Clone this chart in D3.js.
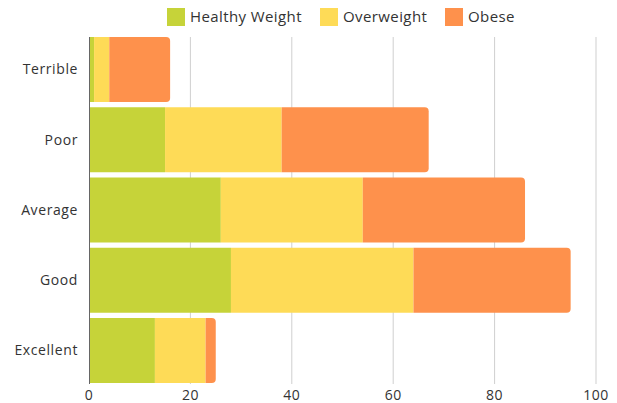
<!DOCTYPE html>
<html>
<head>
<meta charset="utf-8">
<script src="https://cdn.jsdelivr.net/npm/d3@7"></script>
<style>
  body { margin: 0; background: #fff; }
  text { font-family: "Open Sans", "Noto Sans", sans-serif; fill: #333; }
</style>
</head>
<body>
<div class="graph"></div>
<script>
// ratings and the three weight groups
const categories = ["Terrible", "Poor", "Average", "Good", "Excellent"];
const seriesNames = ["Healthy Weight", "Overweight", "Obese"];
const healthy = [1, 15, 26, 28, 13];
const overweight = [3, 23, 28, 36, 10];
const obese = [12, 29, 32, 31, 2];
const xTicks = [0, 20, 40, 60, 80, 100];

const colors = ["#c6d339", "#fedb57", "#fe914c"];

let width = 617, height = 403;

let rows = categories.map((c, i) => ({
    cat: c, "Healthy Weight": healthy[i], "Overweight": overweight[i], "Obese": obese[i]
}));
let stacked = d3.stack().keys(seriesNames)(rows);

let x = d3.scaleLinear().domain([0, 100]).range([89, 596]);
let y = d3.scaleBand().domain(categories).range([37, 383]).paddingInner(0.075).paddingOuter(0);

let svg = d3.select(".graph").append("svg")
    .attr("width", width).attr("height", height);

// grid lines
svg.append("g").selectAll("line")
    .data(xTicks.slice(1))
    .join("line")
    .attr("x1", d => x(d)).attr("x2", d => x(d))
    .attr("y1", 37).attr("y2", 384)
    .attr("stroke", "#cfcfcf").attr("stroke-width", 1);

// rounded right end for the last segment
let roundRight = (x0, y0, w, h, r) => {
    r = Math.min(r, w);
    return "M" + x0 + "," + y0 +
        "H" + (x0 + w - r) +
        "Q" + (x0 + w) + "," + y0 + " " + (x0 + w) + "," + (y0 + r) +
        "V" + (y0 + h - r) +
        "Q" + (x0 + w) + "," + (y0 + h) + " " + (x0 + w - r) + "," + (y0 + h) +
        "H" + x0 + "Z";
};

stacked.forEach((layer, li) => {
    svg.append("g").selectAll("path")
        .data(layer)
        .join("path")
        .attr("fill", colors[li])
        .attr("d", d => {
            let x0 = x(d[0]), w = x(d[1]) - x(d[0]);
            let y0 = y(d.data.cat), h = y.bandwidth();
            if (li === 2) return roundRight(x0, y0, w, h, 4);
            return "M" + x0 + "," + y0 + "h" + w + "v" + h + "h" + (-w) + "Z";
        });
});

// left axis line
svg.append("line")
    .attr("x1", 89.5).attr("x2", 89.5).attr("y1", 37).attr("y2", 384)
    .attr("stroke", "#666").attr("stroke-width", 1);

// category labels
svg.append("g").selectAll("text")
    .data(categories)
    .join("text")
    .attr("x", 78)
    .attr("y", d => y(d) + y.bandwidth() / 2)
    .attr("dy", "0.35em")
    .attr("text-anchor", "end")
    .style("font-size", "14px")
    .style("letter-spacing", "0.6px")
    .text(d => d);

// x tick labels
svg.append("g").selectAll("text")
    .data(xTicks)
    .join("text")
    .attr("x", d => x(d))
    .attr("y", 395)
    .attr("dy", "0.35em")
    .attr("text-anchor", "middle")
    .style("font-size", "14px")
    .style("letter-spacing", "0.5px")
    .text(d => d);

// legend
let legendX = [167, 320, 445];
let legend = svg.append("g").selectAll("g")
    .data(seriesNames)
    .join("g")
    .attr("transform", (d, i) => "translate(" + legendX[i] + ",8)");
legend.append("rect")
    .attr("width", 18).attr("height", 18)
    .attr("fill", (d, i) => colors[i]);
legend.append("text")
    .attr("x", 23).attr("y", 9).attr("dy", "0.35em")
    .style("font-size", "15px")
    .style("letter-spacing", "0.4px")
    .text(d => d);
</script>
</body>
</html>
